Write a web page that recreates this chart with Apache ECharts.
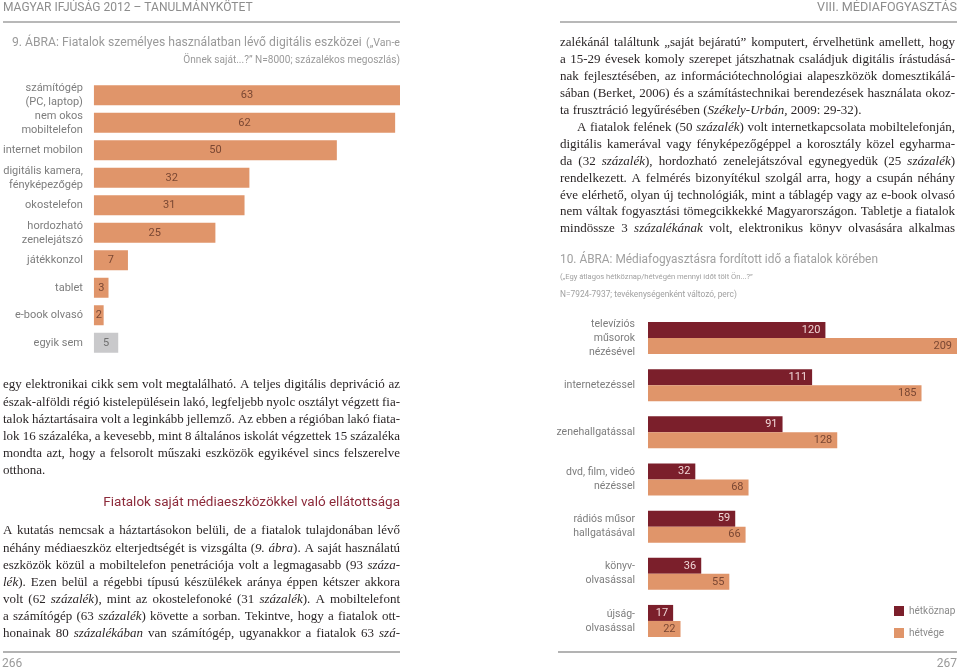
<!DOCTYPE html>
<html><head><meta charset="utf-8">
<script src="https://cdn.jsdelivr.net/npm/echarts@6/dist/echarts.min.js"></script>
<style>html,body{margin:0;padding:0;background:#fff}#c{width:960px;height:670px}</style>
</head><body><div id="c"></div>
<script>
// ---------- DATA ----------
const deviceCategories = ['számítógép\n(PC, laptop)', 'nem okos\nmobiltelefon', 'internet mobilon', 'digitális kamera,\nfényképezőgép', 'okostelefon', 'hordozható\nzenelejátszó', 'játékkonzol', 'tablet', 'e-book olvasó', 'egyik sem'];
const deviceValues = [63, 62, 50, 32, 31, 25, 7, 3, 2, 5];

const mediaCategories = ['televíziós\nműsorok\nnézésével', 'internetezéssel', 'zenehallgatással', 'dvd, film, videó\nnézéssel', 'rádiós műsor\nhallgatásával', 'könyv-\nolvasással', 'újság-\nolvasással'];
const weekdayValues = [120, 111, 91, 32, 59, 36, 17];
const weekendValues = [209, 185, 128, 68, 66, 55, 22];
const seriesNames = ['hétköznap', 'hétvége'];

const leftHeader = 'MAGYAR IFJÚSÁG 2012 – TANULMÁNYKÖTET';
const rightHeader = 'VIII. MÉDIAFOGYASZTÁS';
const chart1Title = '9. ÁBRA: Fiatalok személyes használatban lévő digitális eszközei';
const chart1Sub1 = '(„Van-e';
const chart1Sub2 = 'Önnek saját...?” N=8000; százalékos megoszlás)';
const chart2Title = '10. ÁBRA: Médiafogyasztásra fordított idő a fiatalok körében';
const chart2Sub1 = '(„Egy átlagos hétköznap/hétvégén mennyi időt tölt Ön...?”';
const chart2Sub2 = 'N=7924-7937; tevékenységenként változó, perc)';
const sectionHeading = 'Fiatalok saját médiaeszközökkel való ellátottsága';
const pageLeft = '266';
const pageRight = '267';

const leftPara1 = [
  'egy elektronikai cikk sem volt megtalálható. A teljes digitális depriváció az',
  'észak-alföldi régió kistelepülésein lakó, legfeljebb nyolc osztályt végzett fia-',
  'talok háztartásaira volt a leginkább jellemző. Az ebben a régióban lakó fiata-',
  'lok 16 százaléka, a kevesebb, mint 8 általános iskolát végzettek 15 százaléka',
  'mondta azt, hogy a felsorolt műszaki eszközök egyikével sincs felszerelve',
  'otthona.'
];
const leftPara2 = [
  'A kutatás nemcsak a háztartásokon belüli, de a fiatalok tulajdonában lévő',
  'néhány médiaeszköz elterjedtségét is vizsgálta (~9. ábra~). A saját használatú',
  'eszközök közül a mobiltelefon penetrációja volt a legmagasabb (93 ~száza-~',
  '~lék~). Ezen belül a régebbi típusú készülékek aránya éppen kétszer akkora',
  'volt (62 ~százalék~), mint az okostelefonoké (31 ~százalék~). A mobiltelefont',
  'a számítógép (63 ~százalék~) követte a sorban. Tekintve, hogy a fiatalok ott-',
  'honainak 80 ~százalékában~ van számítógép, ugyanakkor a fiatalok 63 ~szá-~'
];
const rightPara = [
  'zalékánál találtunk „saját bejáratú” komputert, érvelhetünk amellett, hogy',
  'a 15-29 évesek komoly szerepet játszhatnak családjuk digitális írástudásá-',
  'nak fejlesztésében, az információtechnológiai alapeszközök domesztikálá-',
  'sában (Berket, 2006) és a számítástechnikai berendezések használata okoz-',
  'ta frusztráció legyűrésében (~Székely-Urbán,~ 2009: 29-32).',
  'A fiatalok felének (50 ~százalék~) volt internetkapcsolata mobiltelefonján,',
  'digitális kamerával vagy fényképezőgéppel a korosztály közel egyharma-',
  'da (32 ~százalék~), hordozható zenelejátszóval egynegyedük (25 ~százalék~)',
  'rendelkezett. A felmérés bizonyítékul szolgál arra, hogy a csupán néhány',
  'éve elérhető, olyan új technológiák, mint a táblagép vagy az e-book olvasó',
  'nem váltak fogyasztási tömegcikkekké Magyarországon. Tabletje a fiatalok',
  'mindössze 3 ~százalékának~ volt, elektronikus könyv olvasására alkalmas'
];

// ---------- STYLE ----------
const SERIF = '"Liberation Serif", "DejaVu Serif", serif';
const SANS = 'Roboto, "Open Sans", sans-serif';
const ORANGE = '#e0956a';
const MAROON = '#7b1f2b';
const GRAY_TXT = '#8a8a8a';
const BODY = '#2b2627';

const cv = document.createElement('canvas').getContext('2d');
function measure(t, size, fam, italic, weight) {
  cv.font = (italic ? 'italic ' : '') + (weight || 'normal') + ' ' + size + 'px ' + fam;
  return cv.measureText(t).width;
}
function fitSize(t, fam, target) { return 20 * target / measure(t, 20, fam, false); }

function parseLine(line) {
  let it = false; const words = [];
  line.split(' ').filter(Boolean).forEach(w => {
    const parts = w.split('~'); const segs = [];
    parts.forEach((p, k) => { if (k > 0) it = !it; if (p) segs.push({ t: p, i: it }); });
    words.push(segs);
  });
  return words;
}
function naturalWidth(line, size) {
  return parseLine(line).reduce((s, segs) => s + segs.reduce((a, g) => a + measure(g.t, size, SERIF, g.i), 0), 0);
}
function lineEls(line, x, y, width, size, justify) {
  const words = parseLine(line);
  const ww = words.map(segs => segs.reduce((s, g) => s + measure(g.t, size, SERIF, g.i), 0));
  const total = ww.reduce((a, b) => a + b, 0);
  const gap = (justify && words.length > 1) ? (width - total) / (words.length - 1) : measure(' ', size, SERIF, false);
  const els = []; let cx = x;
  words.forEach(segs => {
    segs.forEach(g => {
      els.push({ type: 'text', x: cx, y: y, silent: true,
        style: { text: g.t, fontSize: size, fontFamily: SERIF, fontStyle: g.i ? 'italic' : 'normal',
          fill: BODY, align: 'left', verticalAlign: 'middle', textAlign: 'left', textVerticalAlign: 'middle' } });
      cx += measure(g.t, size, SERIF, g.i);
    });
    cx += gap;
  });
  return els;
}
// choose body font size so every justified line fits with ~3px word gaps
function bodySize() {
  let size = 13;
  const all = [[leftPara1, 398], [leftPara2, 398], [rightPara, 395]];
  all.forEach(([lines, w]) => lines.forEach(l => {
    const n = parseLine(l).length;
    const nat = naturalWidth(l, 13);
    const s = 13 * (w - 3 * (n - 1)) / nat;
    if (s < size) size = s;
  }));
  return Math.min(13, size);
}
const BS = bodySize();

const graphic = [];
function txt(t, x, y, size, color, align, fam, weight) {
  graphic.push({ type: 'text', x: x, y: y, silent: true,
    style: { text: t, fontSize: size, fontFamily: fam || SANS, fontWeight: weight || 'normal', fill: color,
      align: align || 'left', verticalAlign: 'middle', textAlign: align || 'left', textVerticalAlign: 'middle' } });
}
function rule(x1, x2, y, w, c) {
  graphic.push({ type: 'line', silent: true, shape: { x1: x1, y1: y, x2: x2, y2: y }, style: { stroke: c, lineWidth: w } });
}

// headers and rules
txt(leftHeader, 3, 8, fitSize(leftHeader, SANS, 250), '#8d8d8d', 'left');
txt(rightHeader, 957, 8, fitSize(rightHeader, SANS, 140), '#8d8d8d', 'right');
rule(3, 400, 22, 2, '#b8b8b8');
rule(560, 957, 22, 2, '#b8b8b8');
rule(3, 400, 652, 1.5, '#9a9a9a');
rule(558, 957, 652, 1.5, '#9a9a9a');
txt(pageLeft, 2, 664, 12, '#9a9a9a', 'left');
txt(pageRight, 957, 664, 12, '#9a9a9a', 'right');

// chart titles
txt(chart1Title, 12, 43, fitSize(chart1Title, SANS, 350), '#9a9a9a', 'left');
txt(chart1Sub1, 400, 43, fitSize(chart1Sub1, SANS, 34), '#9a9a9a', 'right');
txt(chart1Sub2, 400, 60, fitSize(chart1Sub2, SANS, 217), '#9a9a9a', 'right');
txt(chart2Title, 560, 260, fitSize(chart2Title, SANS, 318), '#a0a0a0', 'left');
txt(chart2Sub1, 560, 277, fitSize(chart2Sub1, SANS, 193), '#a0a0a0', 'left');
txt(chart2Sub2, 560, 295, fitSize(chart2Sub2, SANS, 177), '#a0a0a0', 'left');
txt(sectionHeading, 400, 503, fitSize(sectionHeading, SANS, 297), '#8c2a3a', 'right');

// body text
leftPara1.forEach((l, i) => graphic.push(...lineEls(l, 3, 385 + i * 17.2, 397, BS, i < leftPara1.length - 1)));
leftPara2.forEach((l, i) => graphic.push(...lineEls(l, 3, 531 + i * 17.1, 397, BS, true)));
rightPara.forEach((l, i) => {
  const indent = (i === 5) ? 17 : 0;
  graphic.push(...lineEls(l, 560 + indent, 43 + i * 16.9, 395 - indent, BS, i !== 4));
});

// ---------- CHART ----------
const chart = echarts.init(document.getElementById('c'), null, { renderer: 'canvas' });
const catLabel = (margin, lh, fs) => ({ color: '#7d7d7d', fontSize: fs, fontFamily: SANS, lineHeight: lh, margin: margin, interval: 0, hideOverlap: false });
const option = {
  animation: false,
  backgroundColor: '#ffffff',
  grid: [
    { left: 91, top: 81.5, width: 309, height: 275 },
    { left: 648, top: 314.5, width: 309, height: 330 }
  ],
  xAxis: [
    { gridIndex: 0, type: 'value', min: 0, max: 63, show: false },
    { gridIndex: 1, type: 'value', min: 0, max: 209, show: false }
  ],
  yAxis: [
    { gridIndex: 0, type: 'category', data: deviceCategories, inverse: true,
      axisLine: { show: false }, axisTick: { show: false }, splitLine: { show: false }, axisLabel: catLabel(11, 14, 11) },
    { gridIndex: 1, type: 'category', data: mediaCategories, inverse: true,
      axisLine: { show: false }, axisTick: { show: false }, splitLine: { show: false }, axisLabel: catLabel(13, 14, 10.5) }
  ],
  legend: {
    data: seriesNames, orient: 'vertical', left: 894, top: 606, icon: 'rect', padding: 0,
    itemWidth: 10, itemHeight: 10, itemGap: 12,
    textStyle: { color: GRAY_TXT, fontSize: 10, fontFamily: SANS }, selectedMode: false
  },
  series: [
    { type: 'bar', xAxisIndex: 0, yAxisIndex: 0, barWidth: 20, silent: true,
      data: deviceValues.map((v, i) => deviceCategories[i] === 'egyik sem'
        ? { value: v, itemStyle: { color: '#c9c9cb' }, label: { color: '#707070' } } : v),
      itemStyle: { color: ORANGE },
      label: { show: true, position: 'inside', color: '#7a4733', fontSize: 11, fontFamily: SANS } },
    { type: 'bar', name: seriesNames[0], xAxisIndex: 1, yAxisIndex: 1, data: weekdayValues,
      barWidth: 16, barGap: '0%', silent: true, itemStyle: { color: MAROON },
      label: { show: true, position: 'insideRight', distance: 5, color: '#f0d6d6', fontSize: 11, fontFamily: SANS } },
    { type: 'bar', name: seriesNames[1], xAxisIndex: 1, yAxisIndex: 1, data: weekendValues,
      barWidth: 16, barGap: '0%', silent: true, itemStyle: { color: ORANGE },
      label: { show: true, position: 'insideRight', distance: 5, color: '#7a4733', fontSize: 11, fontFamily: SANS } }
  ],
  graphic: graphic
};
chart.setOption(option);
</script>
</body></html>
